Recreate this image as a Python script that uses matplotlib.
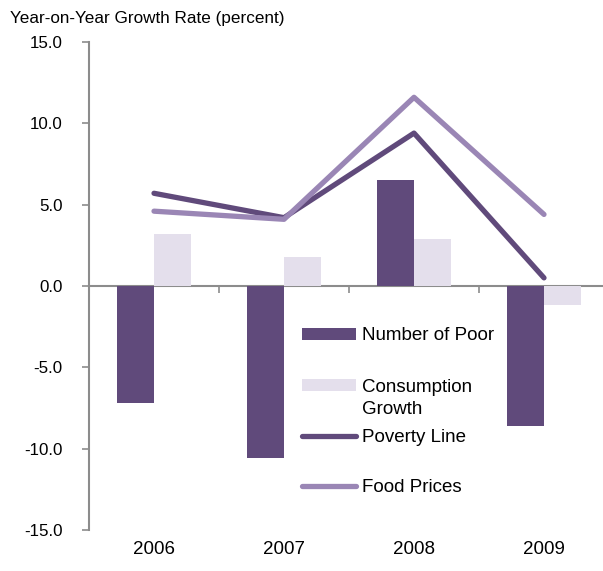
import matplotlib
matplotlib.use("Agg")
import matplotlib.pyplot as plt
import numpy as np

years = ["2006", "2007", "2008", "2009"]
number_of_poor = [-7.2, -10.55, 6.5, -8.6]
consumption_growth = [3.2, 1.8, 2.9, -1.15]
poverty_line = [5.7, 4.2, 9.4, 0.5]
food_prices = [4.6, 4.1, 11.6, 4.4]
yticks = [-15, -10, -5, 0, 5, 10, 15]

c_dark = "#604A7B"
c_light = "#E4DFEC"
c_food = "#9A86B5"
c_axis = "#8C8C8C"

plt.rcParams["font.family"] = ["Liberation Sans", "DejaVu Sans"]
plt.rcParams["axes.unicode_minus"] = False

W, H = 603, 571
fig = plt.figure(figsize=(W / 100, H / 100), dpi=100)
ax = fig.add_axes([89 / W, 1 - 530 / H, 520 / W, 488 / H])

x = np.arange(len(years))
w = 0.285
b1 = ax.bar(x - w / 2, number_of_poor, w, color=c_dark, zorder=2)
b2 = ax.bar(x + w / 2, consumption_growth, w, color=c_light, zorder=2)
l1, = ax.plot(x, poverty_line, color=c_dark, lw=3.8, solid_capstyle="round",
              solid_joinstyle="round", zorder=3)
l2, = ax.plot(x, food_prices, color=c_food, lw=3.8, solid_capstyle="round",
              solid_joinstyle="round", zorder=3)

ax.set_xlim(-0.5, 3.5)
ax.set_ylim(-15, 15)
ax.set_yticks(yticks)
ax.set_yticklabels([f"{v:.1f}" for v in yticks], fontsize=12.2)
ax.tick_params(axis="y", direction="out", length=5, width=1.2, color=c_axis, pad=14)

for s in ["top", "right"]:
    ax.spines[s].set_visible(False)
ax.spines["left"].set_color(c_axis)
ax.spines["left"].set_linewidth(1.5)
ax.spines["bottom"].set_position(("data", 0))
ax.spines["bottom"].set_color(c_axis)
ax.spines["bottom"].set_linewidth(1.5)
ax.spines["bottom"].set_zorder(1)

ax.set_xticks(np.arange(len(years) + 1) - 0.5)
ax.set_xticklabels([])
ax.tick_params(axis="x", direction="out", length=5, width=1.2, color=c_axis)
for xi, yr in zip(x, years):
    ax.text(xi, -0.04, yr, transform=ax.get_xaxis_transform(),
            ha="center", va="center", fontsize=13.5)

fig.text(10 / W, 1 - 18 / H, "Year-on-Year Growth Rate (percent)",
         ha="left", va="center", fontsize=12.3)

# legend entries placed one by one, like the original's uneven spacing
entries = [(b1, "Number of Poor", 336), (b2, "Consumption", 387),
           (l1, "Poverty Line", 438), (l2, "Food Prices", 488)]
legs = []
for handle, label, ypix in entries:
    lg = fig.legend([handle], [label], loc="center left",
                    bbox_to_anchor=(302 / W, 1 - ypix / H), frameon=False,
                    fontsize=13.5, handlelength=2.9, handleheight=0.55,
                    handletextpad=0.3, borderaxespad=0, borderpad=0)
    legs.append(lg)

fig.canvas.draw()
bb = legs[1].get_texts()[0].get_window_extent()
fig.text(bb.x0 / W, 1 - 409 / H, "Growth", ha="left", va="center", fontsize=13.5)

plt.savefig("out.png", dpi=100)
